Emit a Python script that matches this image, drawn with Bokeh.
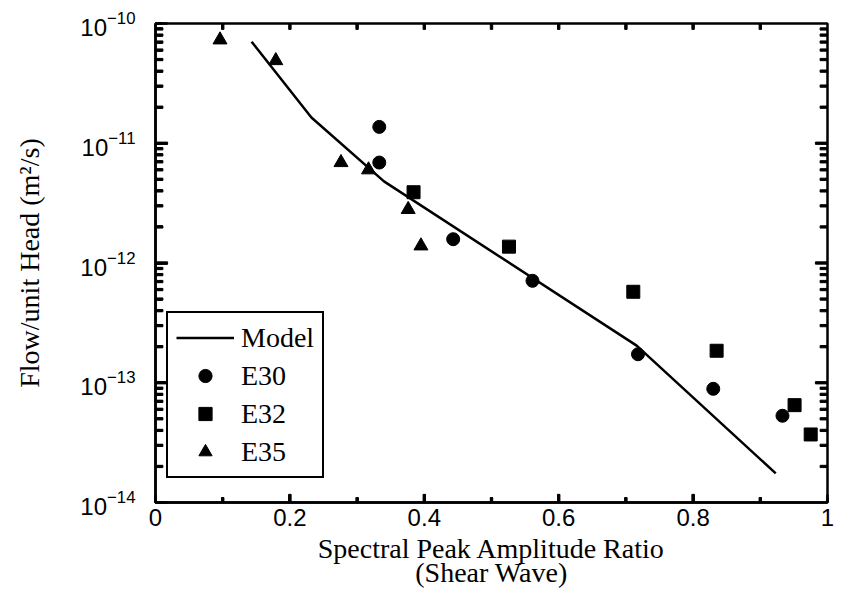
from bokeh.plotting import figure
from bokeh.models import (SingleIntervalTicker, LogTicker, Legend, LegendItem, Range1d)
from bokeh.embed import file_html
from bokeh.resources import INLINE

# Model curve: flow per unit head vs spectral peak amplitude ratio
model_x = [0.143, 0.232, 0.340, 0.716, 0.923]
model_y = [7.05e-11, 1.64e-11, 4.8e-12, 2.04e-13, 1.75e-14]

# Measured specimens
e30_x = [0.333, 0.333, 0.443, 0.561, 0.718, 0.830, 0.933]
e30_y = [1.37e-11, 6.9e-12, 1.58e-12, 7.1e-13, 1.73e-13, 8.9e-14, 5.3e-14]

e32_x = [0.384, 0.526, 0.711, 0.835, 0.951, 0.975]
e32_y = [3.9e-12, 1.37e-12, 5.75e-13, 1.85e-13, 6.5e-14, 3.7e-14]

e35_x = [0.096, 0.179, 0.276, 0.317, 0.376, 0.395]
e35_y = [7.3e-11, 4.9e-11, 6.9e-12, 6.0e-12, 2.8e-12, 1.39e-12]

# Axis limits and tick positions
X_MIN, X_MAX = 0.0, 1.0
Y_MIN, Y_MAX = 1e-14, 1e-10
x_major = [0.2, 0.4, 0.6, 0.8]
x_minor = [0.1, 0.3, 0.5, 0.7, 0.9]
y_decades = [1e-13, 1e-12, 1e-11]
y_minor = [k * 10.0 ** e for e in range(-14, -10) for k in range(2, 10)]

SERIF = "Liberation Serif"
SANS = "Liberation Sans"
INK = "black"

p = figure(width=842, height=612,
           x_range=Range1d(X_MIN, X_MAX), y_range=Range1d(Y_MIN, Y_MAX),
           y_axis_type="log", output_backend="svg", toolbar_location=None,
           min_border_left=155, min_border_right=15,
           min_border_top=23, min_border_bottom=110)

p.background_fill_color = None
p.border_fill_color = "white"
p.xgrid.visible = False
p.ygrid.visible = False
p.outline_line_color = INK
p.outline_line_alpha = 1
p.outline_line_width = 2.5


def style_axis(ax, major_in, minor_in):
    ax.major_tick_in = major_in
    ax.major_tick_out = 0
    ax.minor_tick_in = minor_in
    ax.minor_tick_out = 0
    ax.axis_line_color = INK
    ax.axis_line_width = 2.5
    ax.major_tick_line_color = INK
    ax.minor_tick_line_color = INK
    ax.major_tick_line_width = 2.5
    ax.minor_tick_line_width = 2.5


# bottom axis
xa = p.xaxis[0]
xa.ticker = SingleIntervalTicker(interval=0.2, num_minor_ticks=2)
style_axis(xa, 8, 5)
xa.major_label_text_font = SANS
xa.major_label_text_font_size = "24px"
xa.major_label_text_color = INK
xa.major_label_standoff = 6
xa.axis_label = "Spectral Peak Amplitude Ratio\n(Shear Wave)"
xa.axis_label_text_font = SERIF
xa.axis_label_text_font_size = "28px"
xa.axis_label_text_font_style = "normal"
xa.axis_label_text_color = INK
xa.axis_label_text_line_height = 0.8
xa.axis_label_standoff = 4

# left axis
ya = p.yaxis[0]
ya.ticker = LogTicker(desired_num_ticks=5, num_minor_ticks=10)
style_axis(ya, 12, 7)
ya.major_label_text_font = SANS
ya.major_label_text_font_size = "24px"
ya.major_label_text_color = INK
ya.major_label_standoff = 20
ya.axis_label = "Flow/unit Head (m\u00b2/s)"
ya.axis_label_text_font = SERIF
ya.axis_label_text_font_size = "28px"
ya.axis_label_text_font_style = "normal"
ya.axis_label_text_color = INK
ya.axis_label_standoff = 32

# inward tick marks on all four sides, drawn as thin filled bars
bar_kw = dict(fill_color=INK, line_color=INK, line_width=1)
HALF_W = 0.0018                     # half bar thickness on the x axis
HALF_F = 1.022                      # half bar thickness as a log-axis factor
X_MAJ_LEN, X_MIN_LEN, X_TOP_LEN = 1.17, 1.10, 1.12
Y_MAJ_LEN, Y_MIN_LEN = 0.018, 0.011


def vbars(xs, y_from, y_to):
    n = len(xs)
    p.quad(left=[x - HALF_W for x in xs], right=[x + HALF_W for x in xs],
           bottom=[min(y_from, y_to)] * n, top=[max(y_from, y_to)] * n, **bar_kw)


def hbars(ys, x_from, x_to):
    n = len(ys)
    p.quad(left=[min(x_from, x_to)] * n, right=[max(x_from, x_to)] * n,
           bottom=[y / HALF_F for y in ys], top=[y * HALF_F for y in ys], **bar_kw)


x_top = sorted(x_major + x_minor)
vbars(x_major, Y_MIN, Y_MIN * X_MAJ_LEN)
vbars(x_minor, Y_MIN, Y_MIN * X_MIN_LEN)
vbars(x_top, Y_MAX, Y_MAX / X_TOP_LEN)
for edge, sign in ((X_MIN, 1), (X_MAX, -1)):
    hbars(y_decades, edge, edge + sign * Y_MAJ_LEN)
    hbars(y_minor, edge, edge + sign * Y_MIN_LEN)

line_r = p.line(model_x, model_y, line_color=INK, line_width=2.5)
c_r = p.scatter(e30_x, e30_y, marker="circle", size=13,
                fill_color=INK, line_color=INK)
s_r = p.scatter(e32_x, e32_y, marker="square", size=13,
                fill_color=INK, line_color=INK)
t_r = p.scatter(e35_x, e35_y, marker="triangle", size=14,
                fill_color=INK, line_color=INK)

legend = Legend(items=[LegendItem(label="Model", renderers=[line_r]),
                       LegendItem(label="E30", renderers=[c_r]),
                       LegendItem(label="E32", renderers=[s_r]),
                       LegendItem(label="E35", renderers=[t_r])],
                location=(11, 24), margin=0)
legend.label_text_font = SERIF
legend.label_text_font_size = "28px"
legend.label_text_color = INK
legend.glyph_width = 58
legend.glyph_height = 33
legend.label_height = 33
legend.spacing = 5
legend.padding = 8
legend.label_standoff = 7
legend.border_line_color = INK
legend.border_line_alpha = 1
legend.border_line_width = 2.5
legend.background_fill_color = "white"
legend.background_fill_alpha = 1
p.add_layout(legend)

open("out.html", "w").write(file_html(p, INLINE))
